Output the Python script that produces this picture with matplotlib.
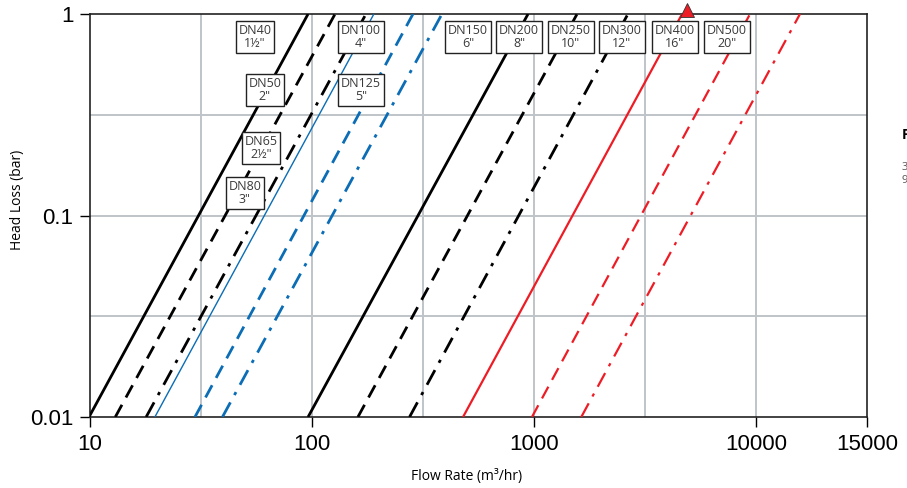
import matplotlib.pyplot as plt
import numpy as np
from matplotlib.ticker import FixedLocator, NullLocator

# Flow rate (m3/hr) at 0.01 bar and at 1 bar head loss, per pipe size
pipes = ["DN40", "DN50", "DN65", "DN80", "DN100", "DN125",
         "DN150", "DN200", "DN250", "DN300", "DN400", "DN500"]
inches = ["1½\"", "2\"", "2½\"", "3\"", "4\"", "5\"",
          "6\"", "8\"", "10\"", "12\"", "16\"", "20\""]
flow_low = [9.9, 13.0, 17.9, 19.6, 29.7, 39.5, 96, 161, 275, 479, 979, 1633]
flow_high = [96, 127, 175, 190, 285, 385, 940, 1563, 2649, 4645, 9400, 15780]
head_range = [0.01, 1.0]

# label box centres (flow, head)
label_flow = [55.3, 61.4, 58.9, 49.9, 166, 166, 505, 856, 1468, 2489, 4315, 7396]
label_head = [0.77, 0.42, 0.216, 0.129, 0.77, 0.42, 0.77, 0.77, 0.77, 0.77, 0.77, 0.77]

x_ticks = [10, 100, 1000, 10000, 10 ** 4.5]
x_tick_labels = ["10", "100", "1000", "10000", "15000"]
y_ticks = [0.01, 0.1, 1]
y_tick_labels = ["0.01", "0.1", "1"]
x_grid = [10 ** 1.5, 100, 10 ** 2.5, 1000, 10 ** 3.5, 10000]
y_grid = [10 ** -1.5, 0.1, 10 ** -0.5]

BLACK = "#000000"
BLUE = "#0a6db5"
RED = "#ee1c25"
solid = (None, 2.0)
dashed = ((0, (5, 3)), 2.0)
dashdot = ((0, (6, 3, 1.2, 3)), 2.0)
styles = [
    (BLACK, solid), (BLACK, dashed), (BLACK, dashdot),
    (BLUE, (None, 1.0)), (BLUE, dashed), (BLUE, dashdot),
    (BLACK, solid), (BLACK, dashed), (BLACK, dashdot),
    (RED, (None, 1.6)), (RED, ((0, (6, 3.5)), 1.6)), (RED, ((0, (7, 3.5, 1.5, 3.5)), 1.6)),
]

fig = plt.figure(figsize=(9.07, 4.88), dpi=100)
ax = fig.add_axes([90 / 907, 71 / 488, 777 / 907, 403 / 488])
ax.set_xscale("log")
ax.set_yscale("log")
ax.set_xlim(10, 10 ** 4.5)
ax.set_ylim(0.01, 1)

for g in x_grid:
    ax.axvline(g, color="#bfc4c9", lw=1.4, zorder=1)
for g in y_grid:
    ax.axhline(g, color="#bfc4c9", lw=1.4, zorder=1)

for i in range(len(pipes)):
    color, (ls, lw) = styles[i]
    line, = ax.plot([flow_low[i], flow_high[i]], head_range, color=color, lw=lw, zorder=3,
                    solid_capstyle="butt", dash_capstyle="butt")
    if ls is not None:
        line.set_linestyle(ls)

for i in range(len(pipes)):
    ax.text(label_flow[i], label_head[i], pipes[i] + "\n" + inches[i], ha="center", va="center",
            fontsize=9, family="Open Sans", color="#3a3a3a", linespacing=1.05, zorder=5,
            bbox=dict(boxstyle="square,pad=0.22", fc="white", ec="#222222", lw=1.0))

# red marker sitting on the top edge
ax.plot([4870], [1.05], marker="^", ms=10, color=RED, mec="#333333", mew=0.6,
        clip_on=False, zorder=6)

ax.xaxis.set_major_locator(FixedLocator(x_ticks))
ax.xaxis.set_minor_locator(NullLocator())
ax.set_xticklabels(x_tick_labels)
ax.yaxis.set_major_locator(FixedLocator(y_ticks))
ax.yaxis.set_minor_locator(NullLocator())
ax.set_yticklabels(y_tick_labels)
ax.tick_params(axis="both", direction="out", length=7, width=1.0, labelsize=16, pad=5)
for lab in ax.get_xticklabels() + ax.get_yticklabels():
    lab.set_family("Liberation Sans")
ax.yaxis.get_major_ticks()[2].tick1line.set_color("#999999")

for s in ax.spines.values():
    s.set_linewidth(1.2)
    s.set_color("#222222")

ax.set_xlabel("Flow Rate (m³/hr)", fontsize=10, family="Open Sans")
ax.xaxis.set_label_coords(0.484, -0.128)
ax.set_ylabel("Head Loss (bar)", fontsize=10, family="Open Sans")
ax.yaxis.set_label_coords(-0.084, 0.54)

# partially visible side note at the figure edge
fig.text(902 / 907, 0.715, "F", fontsize=10, fontweight="bold", family="Open Sans")
fig.text(902 / 907, 0.625, "3\n9", fontsize=8, color="#555555", family="Open Sans")

fig.savefig("out.png", dpi=100)
